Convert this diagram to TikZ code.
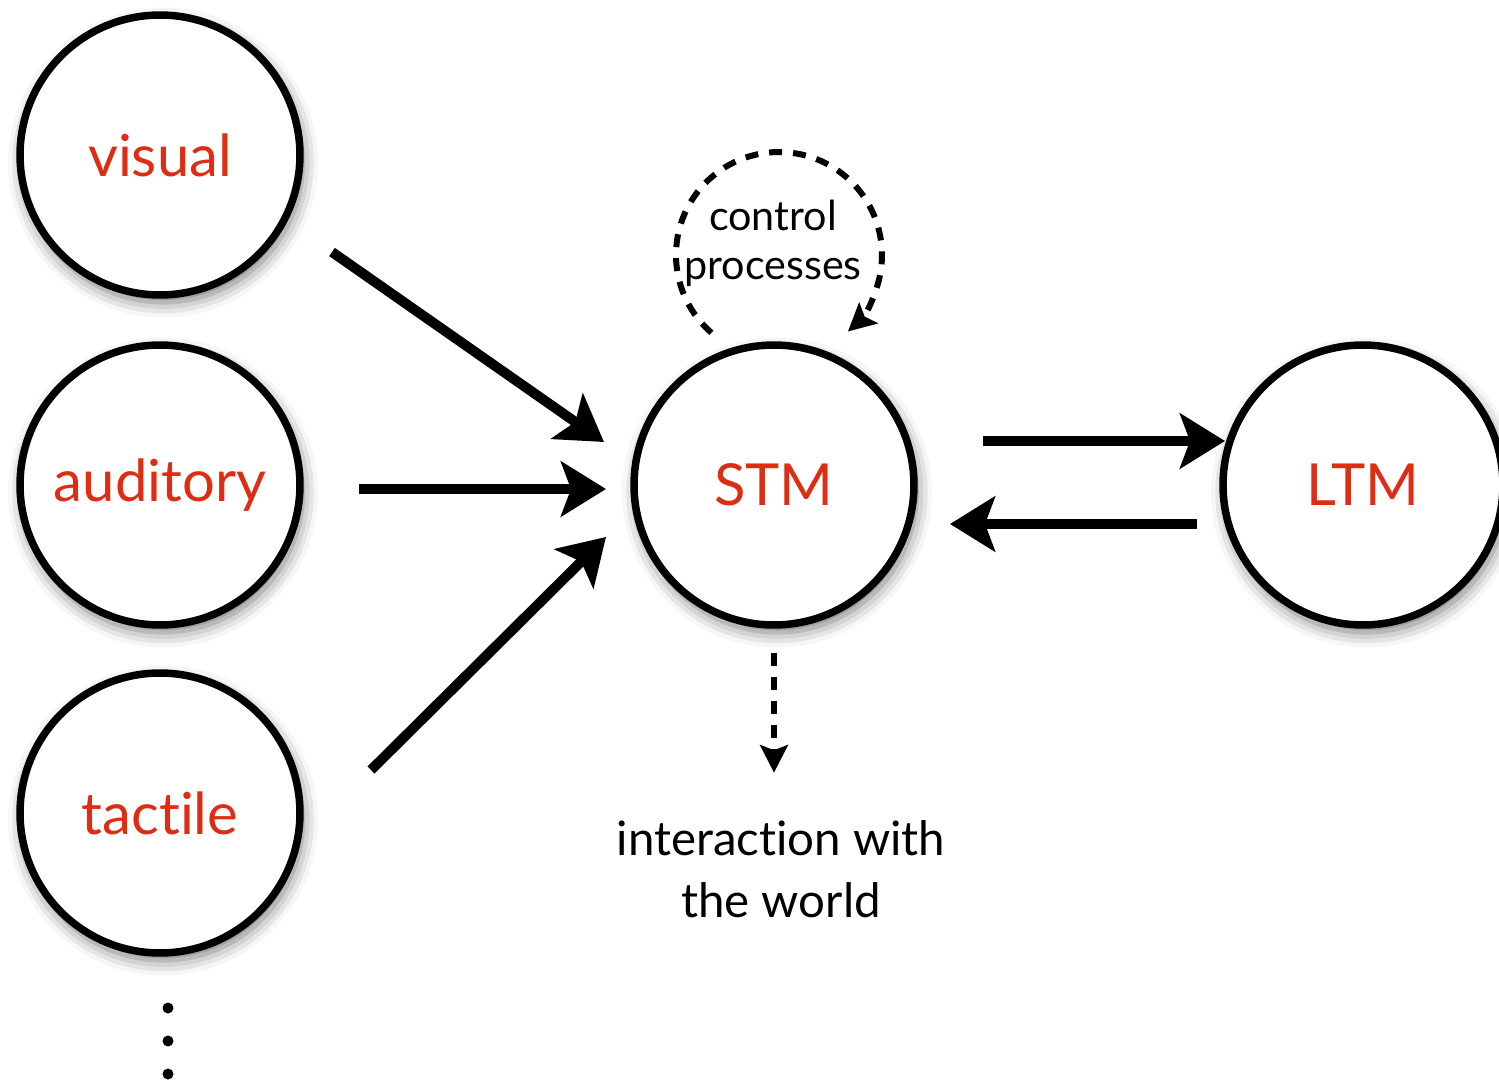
\documentclass[tikz,border=0pt]{standalone}
\usepackage{fontspec}
\setmainfont{Lato}[Ligatures=NoCommon]
\usetikzlibrary{arrows.meta,positioning,calc,shadows.blur}
\definecolor{labelred}{RGB}{222,45,18}
\tikzset{
  memcircle/.style={circle, draw, line width=0.15cm, fill=white, minimum size=5.6cm,
    text=labelred, font=\fontsize{33}{40}\selectfont,
    blur shadow={shadow xshift=0.06cm, shadow yshift=-0.15cm,
      shadow blur radius=0.3cm, shadow opacity=55}},
  flowarrow/.style={-{Stealth[length=0.9cm, width=1.1cm, inset=0.2cm]}, line width=0.2cm},
  dashflow/.style={-{Stealth[length=0.55cm, width=0.55cm, inset=0.1cm]}, line width=0.12cm,
    dash pattern=on 0.26cm off 0.22cm},
  plaintext/.style={align=center, inner sep=0pt}
}

\begin{document}
\begin{tikzpicture}[x=0.02cm, y=0.02cm]
  \useasboundingbox (0,0) rectangle (1499,-1081);
  \clip (0,0) rectangle (1499,-1081);

  % sensory stores
  \node[memcircle] (visual) at (160,-155) {visual};
  \node[memcircle] (auditory) at (160,-485) {auditory};
  \node[memcircle] (tactile) at (160,-813) {tactile};
  \foreach \k in {1,2,3}
    \fill ($(tactile)+(8,-162-33*\k)$) circle (0.11cm);

  % short and long term memory
  \node[memcircle] (stm) at (774,-485) {STM};
  \node[memcircle] (ltm) at (1363,-485) {LTM};

  \node[plaintext, font=\fontsize{23.5}{28}\selectfont] (ctrl) at (773,-243) {control\\processes};
  \node[plaintext, font=\fontsize{27}{35}\selectfont] (world) at (781,-869) {interaction with\\the world};

  % inputs into STM
  \draw[flowarrow] ($(visual)+(172,-97)$) -- ($(stm)+(-170,43)$);
  \draw[flowarrow] ($(auditory)+(199,-4)$) -- ($(stm)+(-168,-4)$);
  \draw[flowarrow] ($(tactile)+(211,43)$) -- ($(stm)+(-168,-52)$);

  % STM <-> LTM
  \draw[flowarrow] ($(stm)+(209,44)$) -- ($(ltm)+(-138,44)$);
  \draw[flowarrow] ($(ltm)+(-166,-39)$) -- ($(stm)+(176,-39)$);

  % control loop and output
  \coordinate (loopc) at ($(stm)+(5,230)$);
  \draw[dashflow] ([shift={(229:103)}]loopc) arc[start angle=229, end angle=-48, radius=2.06cm];
  \draw[dashflow] ($(stm.south)+(0,-24)$) -- ($(stm.south)+(0,-144)$);
\end{tikzpicture}
\end{document}
